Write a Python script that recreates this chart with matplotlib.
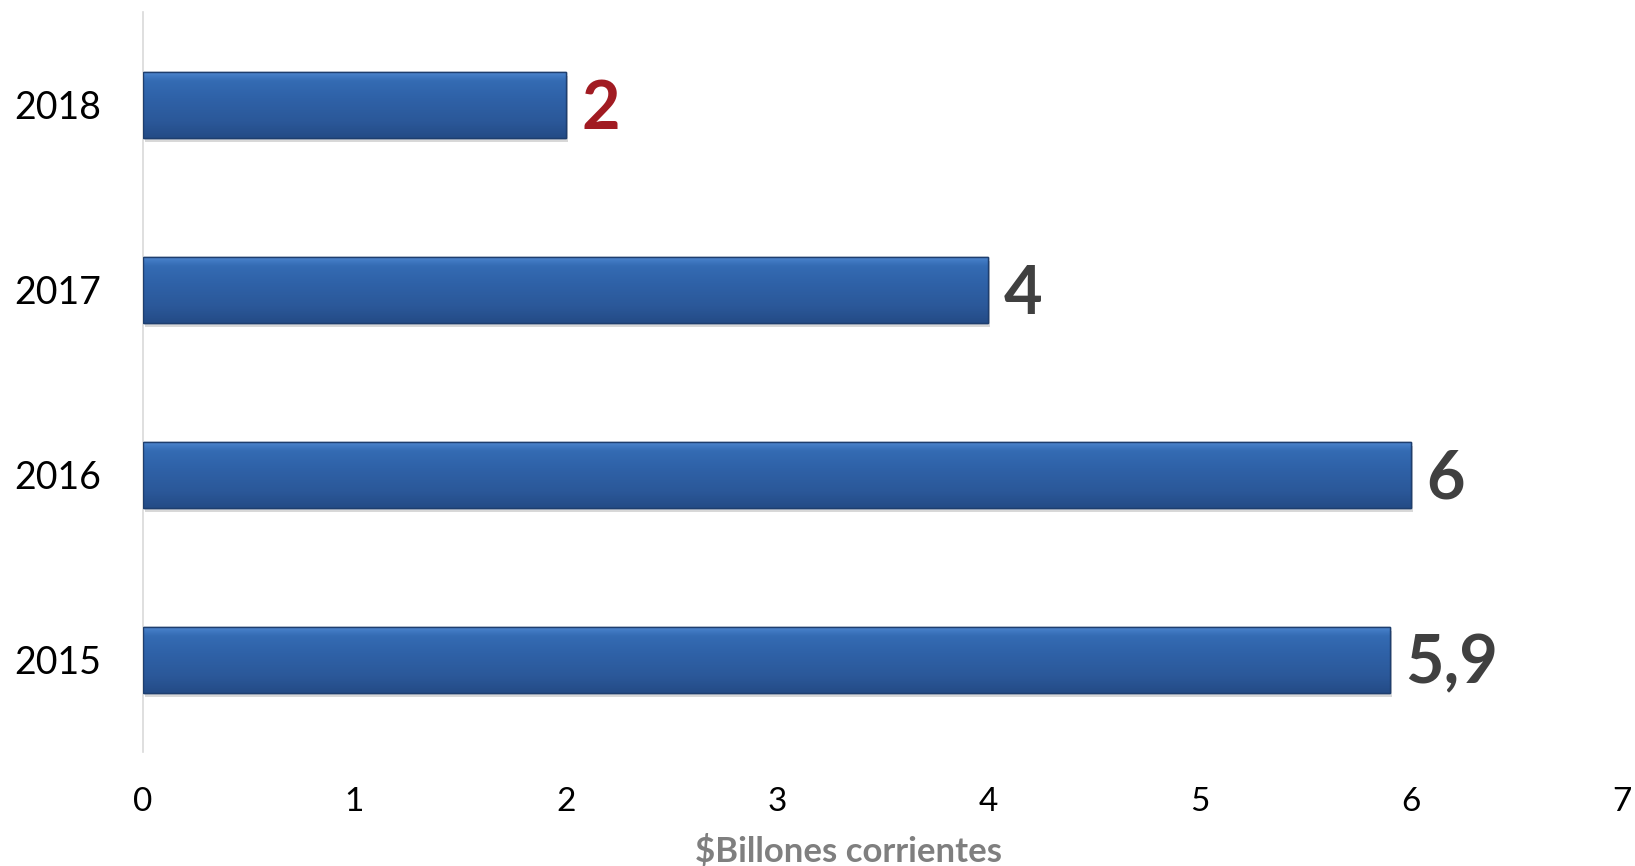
import numpy as np
import matplotlib
matplotlib.use('Agg')
import matplotlib.pyplot as plt
from matplotlib.colors import LinearSegmentedColormap

# chart data
years = ['2015', '2016', '2017', '2018']
values = [5.9, 6, 4, 2]
value_labels = ['5,9', '6', '4', '2']
label_colors = ['#404040', '#404040', '#404040', '#A11B22']

plt.rcParams['font.family'] = ['Lato', 'DejaVu Sans']

fig = plt.figure(figsize=(16.35, 8.66), dpi=100)
ax = fig.add_axes([0.0875, 0.1316, 0.9046, 0.8545])

# vertical gradient for the bars (bottom -> top)
bar_cmap = LinearSegmentedColormap.from_list(
    'barfill', [(0.0, '#244B86'), (0.25, '#2B5899'), (0.6, '#2F62A8'),
                (0.85, '#346BB3'), (0.93, '#4079C2'), (1.0, '#568BD1')])
grad = np.linspace(0, 1, 256).reshape(-1, 1)

bars = ax.barh(years, values, height=0.357, color='#2F62A8', edgecolor='#1E3E6E',
               linewidth=1.0, zorder=2)
for b in bars:
    x0, y0 = b.get_x(), b.get_y()
    w, h = b.get_width(), b.get_height()
    # soft shadow under the bar
    ax.add_patch(plt.Rectangle((x0 + 0.01, y0 - 0.025), w, h, facecolor='#BFBFBF',
                               edgecolor='none', alpha=0.6, zorder=1.5))
    im = ax.imshow(grad, extent=[x0, x0 + w, y0, y0 + h], origin='lower', cmap=bar_cmap,
                   aspect='auto', zorder=2.5, interpolation='bicubic')
    im.set_clip_path(b)
    ax.add_patch(plt.Rectangle((x0, y0), w, h, fill=False, edgecolor='#1E3E6E',
                               linewidth=1.0, zorder=3))

for i, (v, lab, c) in enumerate(zip(values, value_labels, label_colors)):
    ax.text(v + 0.075, i - 0.028, lab, va='center', ha='left', fontsize=48, fontweight='bold',
            color=c, zorder=4)

ax.set_xlim(0, 7)
ax.set_ylim(-0.5, 3.5)
ax.set_xticks(range(8))
ax.tick_params(axis='both', length=0, labelcolor='black')
ax.tick_params(axis='x', labelsize=24, pad=25)
ax.tick_params(axis='y', labelsize=27, pad=30)
for s in ['top', 'right', 'bottom']:
    ax.spines[s].set_visible(False)
ax.spines['left'].set_color('#D9D9D9')
ax.spines['left'].set_linewidth(1.2)
ax.set_xlabel('\\$Billones corrientes', fontsize=25, fontweight='bold', color='#7F7F7F',
              va='center')
ax.xaxis.set_label_coords(0.4767, -0.135)

fig.savefig('out.png', dpi=100)
